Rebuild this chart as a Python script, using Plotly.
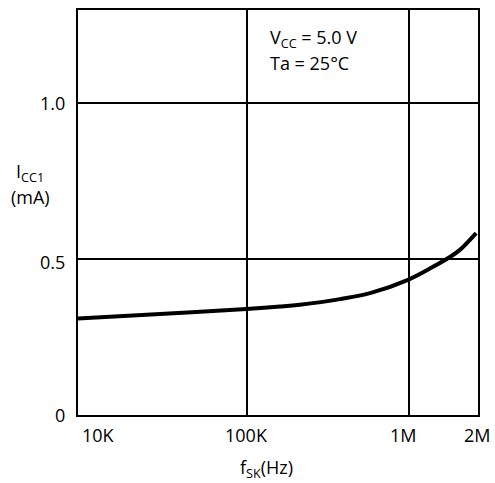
import math
import plotly.graph_objects as go

# Supply current vs. clock frequency
freq_hz = [9.2e3, 2.94e4, 1.0e5, 1.61e5, 2.13e5, 3.76e5, 5.75e5, 9.84e5, 1.34e6, 1.78e6, 2.05e6, 2.58e6]
icc1_ma = [0.310, 0.324, 0.340, 0.348, 0.354, 0.372, 0.391, 0.434, 0.470, 0.507, 0.530, 0.584]

x_tick_vals = [1e4, 1e5, 1e6, 2.6e6]
x_tick_text = ["10K", "100K", "1M", "2M"]
y_tick_vals = [0, 0.5, 1.0]
y_tick_text = ["0", "0.5", "1.0"]

X_MIN, X_MAX = 9.2e3, 2.65e6
Y_MIN, Y_MAX = 0, 1.3

FONT = "Open Sans"
FS = 18

fig = go.Figure()
fig.add_trace(go.Scatter(
    x=freq_hz, y=icc1_ma, mode="lines",
    line=dict(color="black", width=4, shape="spline", smoothing=1.0),
    showlegend=False, hoverinfo="skip",
))

annotations = []
# x tick labels
for v, t in zip(x_tick_vals, x_tick_text):
    anchor = "center"
    xv = math.log10(v)
    shift = 0
    if t == "10K":
        anchor = "left"
        xv = math.log10(X_MIN)
        shift = 2
    if t == "1M":
        shift = -6
    annotations.append(dict(x=xv, y=0, xref="x", yref="y", text=t, showarrow=False,
                            xanchor=anchor, yanchor="middle", yshift=-20, xshift=shift,
                            font=dict(family=FONT, size=FS, color="black")))
# y tick labels
for v, t in zip(y_tick_vals, y_tick_text):
    annotations.append(dict(x=0, y=v, xref="paper", yref="y", text=t, showarrow=False,
                            xanchor="right", yanchor="middle", xshift=-11,
                            yshift=-3 if v == 0.5 else 0,
                            font=dict(family=FONT, size=FS, color="black")))
# axis titles
annotations.append(dict(x=-0.12, y=0.598, xref="paper", yref="paper",
                        text="I<sub>CC1</sub>", showarrow=False,
                        xanchor="center", yanchor="middle",
                        font=dict(family=FONT, size=FS, color="black")))
annotations.append(dict(x=-0.12, y=0.538, xref="paper", yref="paper",
                        text="(mA)", showarrow=False,
                        xanchor="center", yanchor="middle",
                        font=dict(family=FONT, size=FS, color="black")))
annotations.append(dict(x=0.47, y=-0.095, xref="paper", yref="paper",
                        text="f<sub>SK</sub>(Hz)", showarrow=False,
                        xanchor="center", yanchor="top",
                        font=dict(family=FONT, size=FS, color="black")))
# operating conditions
annotations.append(dict(x=0.475, y=0.93, xref="paper", yref="paper",
                        text="V<sub>CC</sub> = 5.0 V", showarrow=False,
                        xanchor="left", yanchor="middle",
                        font=dict(family=FONT, size=FS, color="black")))
annotations.append(dict(x=0.475, y=0.87, xref="paper", yref="paper",
                        text="Ta = 25°C", showarrow=False,
                        xanchor="left", yanchor="middle",
                        font=dict(family=FONT, size=FS, color="black")))

fig.update_layout(
    width=495, height=483,
    margin=dict(l=78, r=17, t=8, b=68),
    paper_bgcolor="white", plot_bgcolor="white",
    annotations=annotations,
    xaxis=dict(type="log", range=[math.log10(X_MIN), math.log10(X_MAX)],
               tickvals=[1e5, 1e6], showticklabels=False, ticks="",
               showgrid=True, gridcolor="black", gridwidth=1.6,
               showline=True, linecolor="black", linewidth=2, mirror=True,
               zeroline=False),
    yaxis=dict(range=[Y_MIN, Y_MAX], tickvals=[0.5, 1.0], showticklabels=False, ticks="",
               showgrid=True, gridcolor="black", gridwidth=1.6,
               showline=True, linecolor="black", linewidth=2, mirror=True,
               zeroline=False),
)

fig.write_html("out.html")
